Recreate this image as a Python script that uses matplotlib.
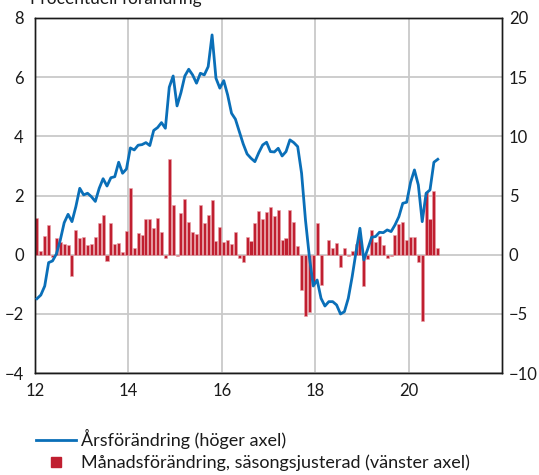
import matplotlib

matplotlib.use("Agg")
import matplotlib.pyplot as plt
import numpy as np
from matplotlib.lines import Line2D

# Monthly series, Jan 2012 - Aug 2020
START_YEAR = 12
MONTHLY_SA = [  # month-on-month change, seasonally adjusted (left axis, %)
    1.23, 0.12, 0.63, 1.00, -0.07, 0.58, 0.43, 0.37, 0.33, -0.72, 0.83, 0.55,
    0.60, 0.33, 0.36, 0.60, 1.08, 1.34, -0.20, 1.08, 0.37, 0.39, 0.08, 0.80,
    2.26, 0.22, 0.72, 0.67, 1.20, 1.20, 0.89, 1.25, 0.76, -0.10, 3.23, 1.67,
    -0.06, 1.42, 1.88, 1.10, 0.76, 0.70, 1.67, 1.08, 1.34, 1.84, 0.46, 0.95,
    0.42, 0.50, 0.36, 0.78, -0.11, -0.25, 0.59, 0.47, 1.08, 1.48, 1.20, 1.45,
    1.60, 1.30, 1.50, 0.50, 0.55, 1.50, 1.10, 0.30, -1.20, -2.08, -1.93, -1.00,
    1.06, -1.03, -0.02, 0.50, 0.24, 0.38, -0.41, 0.24, -0.03, 0.14, 0.35, 0.60,
    -1.05, -0.16, 0.84, 0.44, 0.64, 0.32, -0.10, -0.04, 0.67, 1.04, 1.10, 0.50,
    0.59, 0.61, -0.24, -2.25, 2.13, 1.22, 2.15, 0.24,
]
ANNUAL = [  # year-on-year change (right axis, %)
    -3.72, -3.41, -2.65, -0.67, -0.53, 0.06, 1.24, 2.70, 3.41, 2.79, 4.06, 5.61,
    5.05, 5.19, 4.90, 4.50, 5.61, 6.42, 5.80, 6.50, 6.59, 7.81, 6.88, 7.24,
    9.02, 8.85, 9.25, 9.30, 9.47, 9.22, 10.50, 10.74, 11.16, 10.68, 14.15, 15.10,
    12.57, 13.69, 15.10, 15.67, 15.19, 14.49, 15.33, 15.19, 15.89, 18.57, 14.91, 14.07,
    14.71, 13.50, 11.95, 11.45, 10.40, 9.36, 8.51, 8.15, 7.86, 8.62, 9.27, 9.50,
    8.71, 8.68, 8.99, 8.34, 8.71, 9.70, 9.47, 9.13, 6.88, 2.93, -0.17, -2.65,
    -2.14, -3.69, -4.34, -3.97, -3.97, -4.25, -5.01, -4.82, -3.69, -1.86, 0.25, 2.23,
    -0.45, 0.48, 1.47, 1.53, 1.89, 1.86, 2.09, 1.95, 2.51, 3.21, 4.34, 4.43,
    6.10, 7.16, 5.89, 2.79, 5.19, 5.47, 7.81, 8.06,
]
X_TICKS = [12, 14, 16, 18, 20]
LEFT_TICKS = [-4, -2, 0, 2, 4, 6, 8]
RIGHT_TICKS = [-10, -5, 0, 5, 10, 15, 20]

BLUE = "#0a6fb8"
RED = "#c01f30"
GRID = "#c9c9c9"
INK = "#1a1a1a"

plt.rcParams.update({
    "font.family": ["Lato", "DejaVu Sans"],
    "font.size": 12,
    "text.color": INK,
    "xtick.color": INK,
    "ytick.color": INK,
})

months = np.arange(len(MONTHLY_SA))
x = START_YEAR + (months + 0.5) / 12

fig = plt.figure(figsize=(5.39, 4.75), dpi=100)
ax = fig.add_axes([35 / 539, 1 - 373 / 475, 467 / 539, 355 / 475])
ax2 = ax.twinx()

ax.bar(x, MONTHLY_SA, width=0.78 / 12, color=RED, edgecolor="#e8a0a8",
       linewidth=0.4, zorder=2)
ax2.plot(x, ANNUAL, color=BLUE, lw=2.0, zorder=3)

ax.set_xlim(12, 22)
ax.set_ylim(-4, 8)
ax2.set_ylim(-10, 20)
ax.set_xticks(X_TICKS)
ax.set_xticklabels([str(t) for t in X_TICKS])
ax.set_yticks(LEFT_TICKS)
ax2.set_yticks(RIGHT_TICKS)

ax.grid(True, color=GRID, lw=1.3, zorder=0)
ax.set_axisbelow(True)
for a in (ax, ax2):
    a.tick_params(length=0, labelsize=12)
    for s in a.spines.values():
        s.set_color(INK)
        s.set_linewidth(1.0)
ax.tick_params(axis="x", pad=7)
ax.tick_params(axis="y", pad=8)
ax2.tick_params(axis="y", pad=5)

fig.text(30 / 539, 1 - 4 / 475, "Procentuell förändring", fontsize=12.5,
         va="baseline", ha="left")

handles = [
    Line2D([], [], color=BLUE, lw=2.0),
    Line2D([], [], color=RED, marker="s", linestyle="", markersize=7),
]
labels = [
    "Årsförändring (höger axel)",
    "Månadsförändring, säsongsjusterad (vänster axel)",
]
fig.legend(handles, labels, loc="upper left", bbox_to_anchor=(36 / 539, 1 - 429 / 475),
           frameon=False, fontsize=13, handlelength=2.2, handletextpad=0.3,
           labelspacing=0.3, borderaxespad=0, borderpad=0)

fig.savefig("out.png", dpi=100)
